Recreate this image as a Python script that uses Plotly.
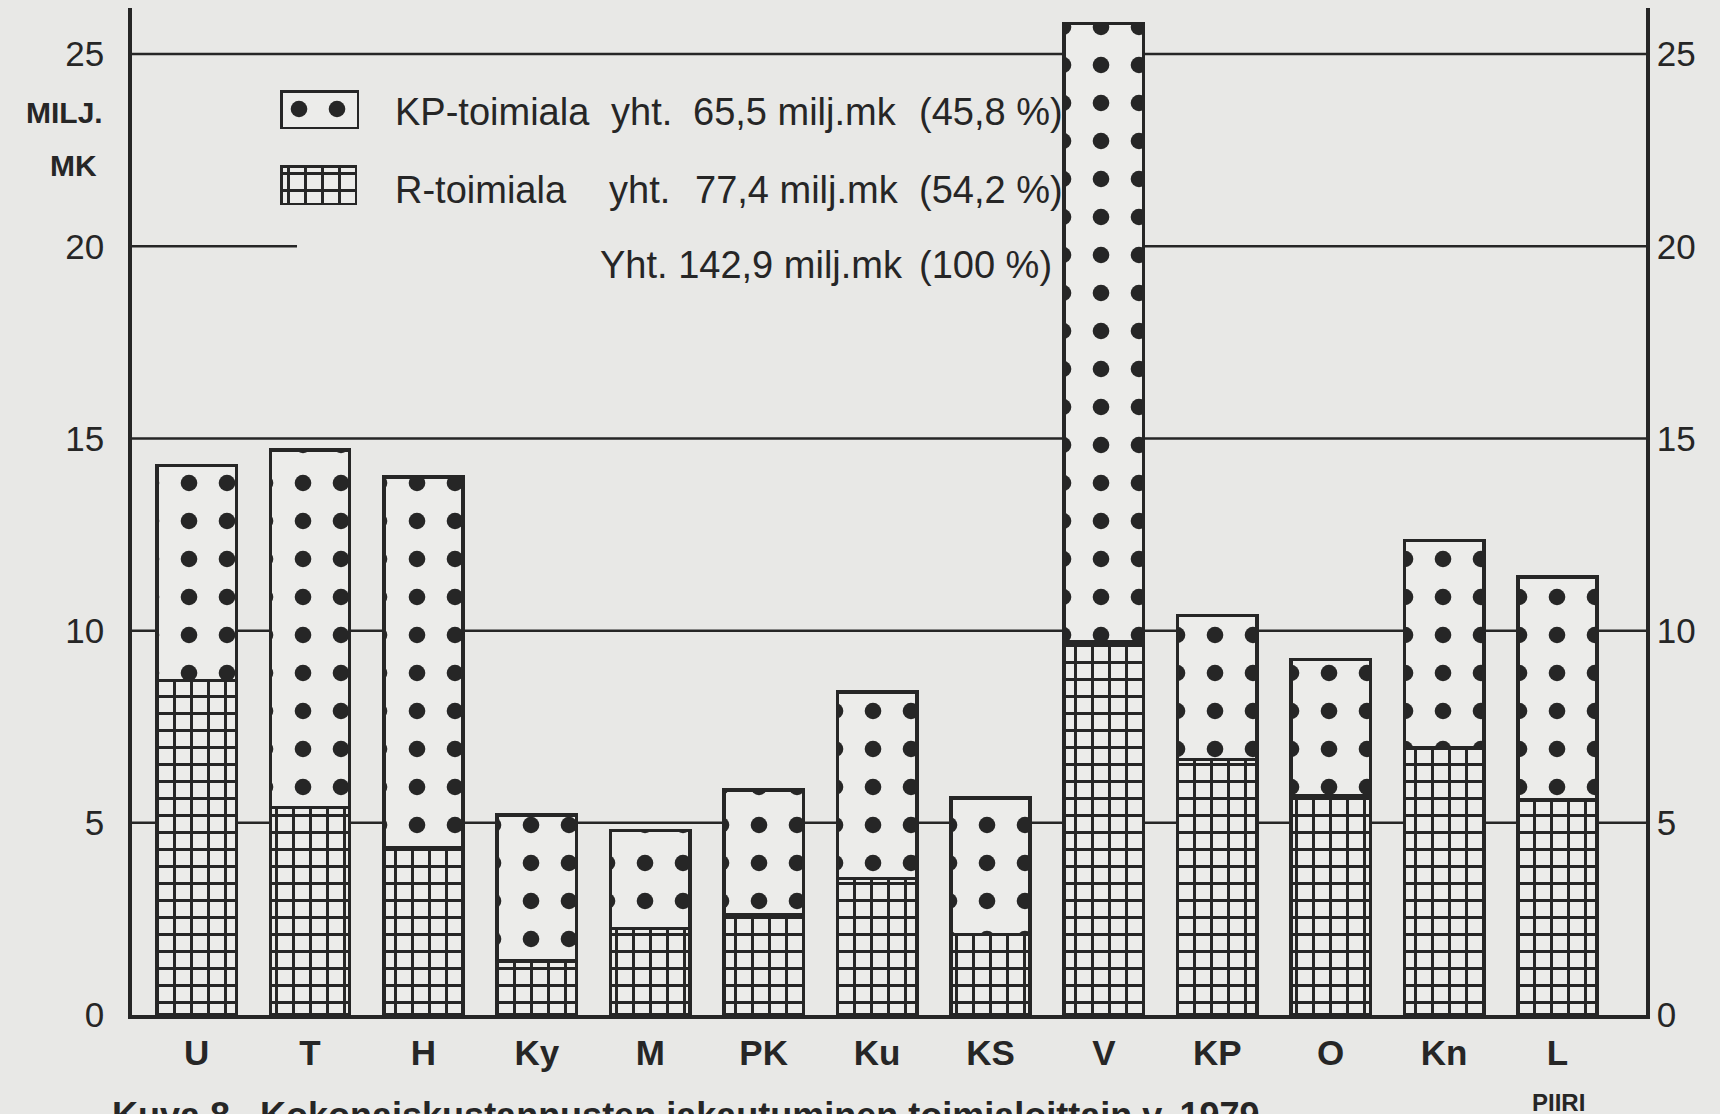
import plotly.graph_objects as go

# ---- data ----
categories = ["U", "T", "H", "Ky", "M", "PK", "Ku", "KS", "V", "KP", "O", "Kn", "L"]
r_vals = [8.7, 5.4, 4.35, 1.4, 2.25, 2.6, 3.55, 2.1, 9.7, 6.65, 5.7, 6.95, 5.6]       # grid pattern
kp_vals = [5.6, 9.3, 9.65, 3.8, 2.55, 3.25, 4.85, 3.55, 16.1, 3.75, 3.55, 5.4, 5.8]   # dot pattern
y_ticks = [0, 5, 10, 15, 20, 25]
legend_kp = ["KP-toimiala", "yht.", "65,5 milj.mk", "(45,8 %)"]
legend_r = ["R-toimiala", "yht.", "77,4 milj.mk", "(54,2 %)"]
legend_tot = ["Yht. 142,9 milj.mk", "(100 %)"]

# ---- style ----
W, H = 1720, 1114
ML, MR, MT, MB = 132, 74, 8, 99
PW, PH = W - ML - MR, H - MT - MB
BG = "#e8e8e6"
FILL = "#ececea"
INK = "#262626"
FONT = "Liberation Sans, Arial, sans-serif"
XR = [-0.57, 12.78]
YR = [0, 26.2]


def px(x):
    return (x - ML) / PW


def py(y):
    return (H - MB - y) / PH


dot_pattern = dict(shape=".", size=38, solidity=0.15, fgcolor=INK, bgcolor=FILL, fillmode="replace")
grid_pattern = dict(shape="+", size=17, solidity=0.32, fgcolor=INK, bgcolor=FILL, fillmode="replace")

fig = go.Figure()
fig.add_trace(go.Bar(x=categories, y=r_vals, name="R-toimiala", width=0.70,
                     marker=dict(color=FILL, pattern=grid_pattern, line=dict(color=INK, width=3.5)),
                     showlegend=False, hoverinfo="skip"))
fig.add_trace(go.Bar(x=categories, y=kp_vals, name="KP-toimiala", width=0.70,
                     marker=dict(color=FILL, pattern=dot_pattern, line=dict(color=INK, width=3.5)),
                     showlegend=False, hoverinfo="skip"))
# invisible companion trace so that the right-hand axis is drawn
fig.add_trace(go.Scatter(x=categories, y=r_vals, yaxis="y2", mode="markers",
                         marker=dict(opacity=0), showlegend=False, hoverinfo="skip"))

# legend swatches (small bars on their own tiny axes)
fig.add_trace(go.Bar(x=[0], y=[1], width=[1], xaxis="x3", yaxis="y3", showlegend=False, hoverinfo="skip",
                     marker=dict(color=FILL, pattern=dot_pattern, line=dict(color=INK, width=5))))
fig.add_trace(go.Bar(x=[0], y=[1], width=[1], xaxis="x4", yaxis="y4", showlegend=False, hoverinfo="skip",
                     marker=dict(color=FILL, pattern=grid_pattern, line=dict(color=INK, width=5))))

# horizontal rule lines (drawn beneath the bars)
shapes = []
for v in y_ticks[1:]:
    if v == 20:
        shapes.append(dict(type="line", xref="x", yref="y", x0=XR[0], x1=0.885, y0=v, y1=v,
                           line=dict(color=INK, width=2.5), layer="below"))
        shapes.append(dict(type="line", xref="x", yref="y", x0=8, x1=XR[1], y0=v, y1=v,
                           line=dict(color=INK, width=2.5), layer="below"))
    else:
        shapes.append(dict(type="line", xref="x", yref="y", x0=XR[0], x1=XR[1], y0=v, y1=v,
                           line=dict(color=INK, width=2.5), layer="below"))

ann = []
tf = dict(family=FONT, size=38, color=INK)
xs = [393, 609, 691, 917]
for t, x in zip(legend_kp, xs):
    ann.append(dict(text=t, x=px(x), y=py(112), xref="paper", yref="paper", xanchor="left",
                    yanchor="middle", showarrow=False, font=tf))
xs2 = [393, 607, 693, 917]
for t, x in zip(legend_r, xs2):
    ann.append(dict(text=t, x=px(x), y=py(190), xref="paper", yref="paper", xanchor="left",
                    yanchor="middle", showarrow=False, font=tf))
for t, x in zip(legend_tot, [598, 917]):
    ann.append(dict(text=t, x=px(x), y=py(265), xref="paper", yref="paper", xanchor="left",
                    yanchor="middle", showarrow=False, font=tf))
# unit label
ann.append(dict(text="MILJ.", x=px(105), y=py(113), xref="paper", yref="paper", xanchor="right",
                yanchor="middle", showarrow=False, font=dict(family=FONT, size=30, color=INK, weight="bold")))
ann.append(dict(text="MK", x=px(99), y=py(165), xref="paper", yref="paper", xanchor="right",
                yanchor="middle", showarrow=False, font=dict(family=FONT, size=30, color=INK, weight="bold")))
# PIIRI
ann.append(dict(text="PIIRI", x=px(1558), y=py(1102), xref="paper", yref="paper", xanchor="center",
                yanchor="middle", showarrow=False, font=dict(family=FONT, size=24, color=INK, weight="bold")))
# caption (cut at page edge)
ann.append(dict(text="Kuva 8.  Kokonaiskustannusten jakautuminen toimialoittain v. 1979",
                x=px(110), y=py(1093), xref="paper", yref="paper", xanchor="left", yanchor="top",
                showarrow=False, font=dict(family=FONT, size=36, color=INK, weight="bold")))

tickfont = dict(family=FONT, size=35, color=INK)
fig.update_layout(
    width=W, height=H,
    margin=dict(l=ML, r=MR, t=MT, b=MB, pad=0),
    paper_bgcolor=BG, plot_bgcolor=BG,
    barmode="stack", bargap=0.3,
    showlegend=False,
    xaxis=dict(range=XR, showgrid=False, zeroline=False, showline=True, linecolor=INK, linewidth=4,
               ticks="", tickfont=dict(family=FONT, size=35, color=INK, weight="bold"),
               ticklabelstandoff=4),
    yaxis=dict(range=YR, tickvals=y_ticks, showgrid=False, zeroline=False, showline=True,
               linecolor=INK, linewidth=3.5, ticks="", tickfont=tickfont, ticklabelstandoff=17),
    yaxis2=dict(range=YR, tickvals=y_ticks, overlaying="y", side="right", anchor="x",
                showgrid=False, zeroline=False, showline=True, linecolor=INK, linewidth=3.5,
                ticks="", tickfont=tickfont, ticklabelstandoff=0),
    xaxis3=dict(domain=[px(280), px(359)], range=[-0.5, 0.5], anchor="y3", visible=False),
    yaxis3=dict(domain=[py(129), py(90)], range=[0, 1], anchor="x3", visible=False),
    xaxis4=dict(domain=[px(280), px(357)], range=[-0.5, 0.5], anchor="y4", visible=False),
    yaxis4=dict(domain=[py(205), py(165)], range=[0, 1], anchor="x4", visible=False),
    shapes=shapes,
    annotations=ann,
)

fig.write_html("out.html", config={"displayModeBar": False},
               post_script="document.body.style.margin='0';document.body.style.overflow='hidden';")
